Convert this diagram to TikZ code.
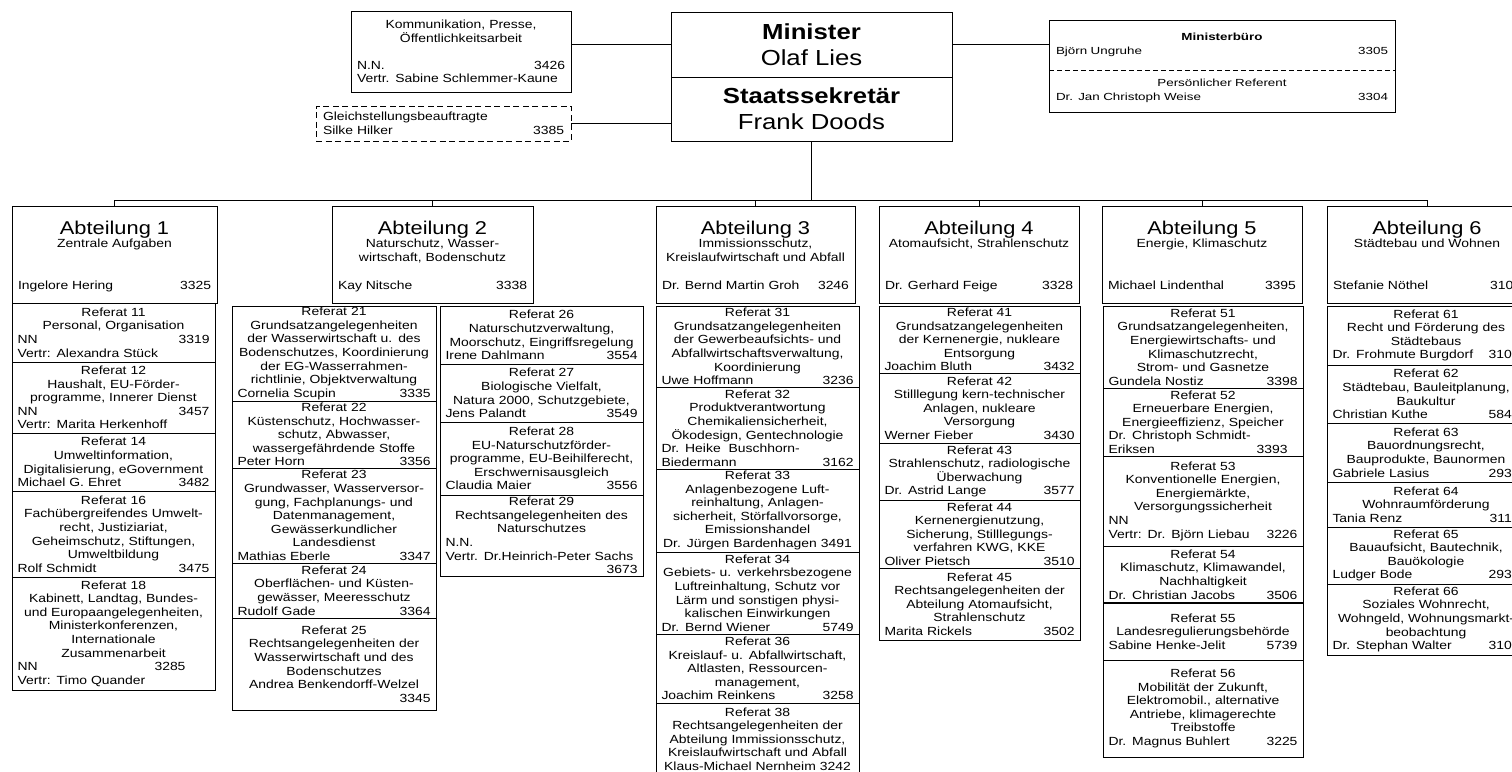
\documentclass[tikz,border=0pt]{standalone}
\usepackage{fontspec}
\setmainfont{Liberation Sans}[FakeStretch=1.18]
\newfontfamily\bueroschrift{Liberation Sans}[FakeStretch=1.3]
\usepackage{tikz}
\usetikzlibrary{calc}
\tikzstyle{kasten} = [draw, anchor=north west, inner ysep=0pt, outer sep=0pt]
\tikzstyle{abtbox} = [kasten, inner xsep=6pt]
\tikzstyle{refbox} = [kasten, align=center, inner xsep=5.5pt, text width=\spw]
\tikzstyle{chefbox} = [kasten, minimum width=281pt, align=center, font=\fontsize{21.8}{26}\selectfont]
\tikzstyle{buero} = [kasten, draw=none, inner xsep=7pt, text width=332pt, align=center, font=\bueroschrift\fontsize{10.3}{14}\selectfont]

\newcommand{\zeile}[2]{\makebox[\hsize]{#1\hfill#2}}
\newcommand{\links}[1]{\makebox[\hsize][l]{#1}}
\newcommand{\rechts}[1]{\makebox[\hsize][r]{#1}}
\newcommand{\abtkopf}[5]{\parbox[c][97pt][t]{#1}{\centering\rule{0pt}{28pt}{\fontsize{18.5}{20}\selectfont #2}\\#3\par\vfill
  \makebox[\linewidth]{\strut #4\hfill #5}\par\vspace*{9pt}}}

\begin{document}
\begin{tikzpicture}[x=1pt, y=-1pt, line width=1pt, font=\fontsize{11.8}{13.6}\selectfont]
    \useasboundingbox (0,0) rectangle (1512,771);

    % Leitung
    \node[chefbox, minimum height=65pt] (minister) at (671,12) {\textbf{Minister}\\Olaf Lies};
    \node[chefbox, minimum height=64pt] (staats) at (minister.south west) {\textbf{Staatssekretär}\\Frank Doods};

    \node[kasten, inner xsep=6pt, text width=208pt, align=center, minimum height=81pt] (komm) at (351,11)
        {Kommunikation, Presse,\\Öffentlichkeitsarbeit\\[13.6pt]\zeile{N.N.}{3426}\\\links{Vertr. Sabine Schlemmer-Kaune}};
    \node[kasten, dash pattern=on 6pt off 3.5pt, inner xsep=7pt, text width=241pt, align=center, minimum height=35pt] (gleich) at (316,106)
        {\links{Gleichstellungsbeauftragte}\\\zeile{Silke Hilker}{3385}};

    \node[buero, minimum height=50pt] (mbuero) at (1049,20) {\textbf{Ministerbüro}\\\zeile{Björn Ungruhe}{3305}};
    \node[buero, minimum height=42pt] (persref) at (mbuero.south west) {Persönlicher Referent\\\zeile{Dr. Jan Christoph Weise}{3304}};
    \draw (mbuero.north west) rectangle (persref.south east);
    \draw[dash pattern=on 5pt off 3pt] (mbuero.south west) -- (mbuero.south east);

    \draw (komm.east |- minister.west) -- (minister.west);
    \draw (gleich.east) -- (gleich.east -| staats.west);
    \draw (minister.east) -- (minister.east -| mbuero.west);

    % Abteilungen
    \node[abtbox] (abt1) at (12,206) {\abtkopf{193pt}{Abteilung 1}{Zentrale Aufgaben}{Ingelore Hering}{3325}};
    \node[abtbox] (abt2) at (332,206) {\abtkopf{189pt}{Abteilung 2}{Naturschutz, Wasser-\\wirtschaft, Bodenschutz}{Kay Nitsche}{3338}};
    \node[abtbox] (abt3) at (656,206) {\abtkopf{187pt}{Abteilung 3}{Immissionsschutz,\\Kreislaufwirtschaft und Abfall}{Dr. Bernd Martin Groh}{3246}};
    \node[abtbox] (abt4) at (879,206) {\abtkopf{188pt}{Abteilung 4}{Atomaufsicht, Strahlenschutz}{Dr. Gerhard Feige}{3328}};
    \node[abtbox] (abt5) at (1102,206) {\abtkopf{188pt}{Abteilung 5}{Energie, Klimaschutz}{Michael Lindenthal}{3395}};
    \node[abtbox] (abt6) at (1327,206) {\abtkopf{188pt}{Abteilung 6}{Städtebau und Wohnen}{Stefanie Nöthel}{310\phantom{0}}};

    \coordinate (bus) at ($(staats.south)+(0,59)$);
    \draw (staats.south) -- (bus);
    \foreach \n in {abt1,abt2,abt3,abt4,abt5,abt6}
        \draw (\n.north) |- (bus);

    % Referate Abt. 1
    \def\spw{192pt}
    \node[refbox, minimum height=59pt] (r11) at (abt1.south west) {Referat 11\\Personal, Organisation\\\zeile{NN}{3319}\\\links{Vertr: Alexandra Stück}};
    \node[refbox, minimum height=71pt] (r12) at (r11.south west) {Referat 12\\Haushalt, EU-Förder-\\programme, Innerer Dienst\\\zeile{NN}{3457}\\\links{Vertr: Marita Herkenhoff}};
    \node[refbox, minimum height=58pt] (r14) at (r12.south west) {Referat 14\\Umweltinformation,\\Digitalisierung, eGovernment\\\zeile{Michael G. Ehret}{3482}};
    \node[refbox, minimum height=86pt] (r16) at (r14.south west) {Referat 16\\Fachübergreifendes Umwelt-\\recht, Justiziariat,\\Geheimschutz, Stiftungen,\\Umweltbildung\\\zeile{Rolf Schmidt}{3475}};
    \node[refbox, minimum height=113pt] (r18) at (r16.south west) {Referat 18\\Kabinett, Landtag, Bundes-\\und Europaangelegenheiten,\\Ministerkonferenzen,\\Internationale\\Zusammenarbeit\\\zeile{NN}{3285\hspace{24pt}}\\\links{Vertr: Timo Quander}};

    % Referate Abt. 2
    \def\spw{193pt}
    \node[refbox, minimum height=95pt] (r21) at (232,306) {Referat 21\\Grundsatzangelegenheiten\\der Wasserwirtschaft u. des\\Bodenschutzes, Koordinierung\\der EG-Wasserrahmen-\\richtlinie, Objektverwaltung\\\zeile{Cornelia Scupin}{3335}};
    \node[refbox, minimum height=67pt] (r22) at (r21.south west) {Referat 22\\Küstenschutz, Hochwasser-\\schutz, Abwasser,\\wassergefährdende Stoffe\\\zeile{Peter Horn}{3356}};
    \node[refbox, minimum height=95pt] (r23) at (r22.south west) {Referat 23\\Grundwasser, Wasserversor-\\gung, Fachplanungs- und\\Datenmanagement,\\Gewässerkundlicher\\Landesdienst\\\zeile{Mathias Eberle}{3347}};
    \node[refbox, minimum height=55pt] (r24) at (r23.south west) {Referat 24\\Oberflächen- und Küsten-\\gewässer, Meeresschutz\\\zeile{Rudolf Gade}{3364}};
    \node[refbox, minimum height=92pt] (r25) at (r24.south west) {Referat 25\\Rechtsangelegenheiten der\\Wasserwirtschaft und des\\Bodenschutzes\\Andrea Benkendorff-Welzel\\\rechts{3345}};
    \def\spw{192pt}
    \node[refbox, minimum height=58pt] (r26) at (440,306) {Referat 26\\Naturschutzverwaltung,\\Moorschutz, Eingriffsregelung\\\zeile{Irene Dahlmann}{3554}};
    \node[refbox, minimum height=58pt] (r27) at (r26.south west) {Referat 27\\Biologische Vielfalt,\\Natura 2000, Schutzgebiete,\\\zeile{Jens Palandt}{3549}};
    \node[refbox, minimum height=73pt] (r28) at (r27.south west) {Referat 28\\EU-Naturschutzförder-\\programme, EU-Beihilferecht,\\Erschwernisausgleich\\\zeile{Claudia Maier}{3556}};
    \node[refbox, minimum height=81pt] (r29) at (r28.south west) {Referat 29\\Rechtsangelegenheiten des\\Naturschutzes\\\links{N.N.}\\\links{Vertr. Dr.Heinrich-Peter Sachs}\\\rechts{3673}};

    % Referate Abt. 3
    \node[refbox, minimum height=81pt] (r31) at (656,306) {Referat 31\\Grundsatzangelegenheiten\\der Gewerbeaufsichts- und\\Abfallwirtschaftsverwaltung,\\Koordinierung\\\zeile{Uwe Hoffmann}{3236}};
    \node[refbox, minimum height=82pt] (r32) at (r31.south west) {Referat 32\\Produktverantwortung\\Chemikaliensicherheit,\\Ökodesign, Gentechnologie\\\links{Dr. Heike\ \ Buschhorn-}\\\zeile{Biedermann}{3162}};
    \node[refbox, minimum height=83pt] (r33) at (r32.south west) {Referat 33\\Anlagenbezogene Luft-\\reinhaltung, Anlagen-\\sicherheit, Störfallvorsorge,\\Emissionshandel\\Dr. Jürgen Bardenhagen 3491};
    \node[refbox, minimum height=82pt] (r34) at (r33.south west) {Referat 34\\Gebiets- u. verkehrsbezogene\\Luftreinhaltung, Schutz vor\\Lärm und sonstigen physi-\\kalischen Einwirkungen\\\zeile{Dr. Bernd Wiener}{5749}};
    \node[refbox, minimum height=69pt] (r36) at (r34.south west) {Referat 36\\Kreislauf- u. Abfallwirtschaft,\\Altlasten, Ressourcen-\\management,\\\zeile{Joachim Reinkens}{3258}};
    \node[refbox, minimum height=72pt] (r38) at (r36.south west) {Referat 38\\Rechtsangelegenheiten der\\Abteilung Immissionsschutz,\\Kreislaufwirtschaft und Abfall\\Klaus-Michael Nernheim 3242};

    % Referate Abt. 4
    \def\spw{190pt}
    \node[refbox, minimum height=67pt] (r41) at (879,306) {Referat 41\\Grundsatzangelegenheiten\\der Kernenergie, nukleare\\Entsorgung\\\zeile{Joachim Bluth}{3432}};
    \node[refbox, minimum height=70pt] (r42) at (r41.south west) {Referat 42\\Stilllegung kern-technischer\\Anlagen, nukleare\\Versorgung\\\zeile{Werner Fieber}{3430}};
    \node[refbox, minimum height=57pt] (r43) at (r42.south west) {Referat 43\\Strahlenschutz, radiologische\\Überwachung\\\zeile{Dr. Astrid Lange}{3577}};
    \node[refbox, minimum height=68pt] (r44) at (r43.south west) {Referat 44\\Kernenergienutzung,\\Sicherung, Stilllegungs-\\verfahren KWG, KKE\\\zeile{Oliver Pietsch}{3510}};
    \node[refbox, minimum height=72pt] (r45) at (r44.south west) {Referat 45\\Rechtsangelegenheiten der\\Abteilung Atomaufsicht,\\Strahlenschutz\\\zeile{Marita Rickels}{3502}};

    % Referate Abt. 5
    \def\spw{189pt}
    \node[refbox, minimum height=82pt] (r51) at (1103,306) {Referat 51\\Grundsatzangelegenheiten,\\Energiewirtschafts- und\\Klimaschutzrecht,\\Strom- und Gasnetze\\\zeile{Gundela Nostiz}{3398}};
    \node[refbox, minimum height=68pt] (r52) at (r51.south west) {Referat 52\\Erneuerbare Energien,\\Energieeffizienz, Speicher\\\links{Dr. Christoph Schmidt-}\\\zeile{Eriksen}{3393\hspace{10pt}}};
    \node[refbox, minimum height=90pt] (r53) at (r52.south west) {Referat 53\\Konventionelle Energien,\\Energiemärkte,\\Versorgungssicherheit\\\links{NN}\\\zeile{Vertr: Dr. Björn Liebau}{3226}};
    \node[refbox, minimum height=57pt] (r54) at (r53.south west) {Referat 54\\Klimaschutz, Klimawandel,\\Nachhaltigkeit\\\zeile{Dr. Christian Jacobs}{3506}};
    \node[refbox, minimum height=57pt] (r55) at (r54.south west) {Referat 55\\Landesregulierungsbehörde\\\zeile{Sabine Henke-Jelit}{5739}};
    \node[refbox, minimum height=97pt] (r56) at (r55.south west) {Referat 56\\Mobilität der Zukunft,\\Elektromobil., alternative\\Antriebe, klimagerechte\\Treibstoffe\\\zeile{Dr. Magnus Buhlert}{3225}};
    \draw[line width=2pt] (r55.north west) -- (r55.north east);

    % Referate Abt. 6
    \def\spw{187pt}
    \node[refbox, minimum height=59pt] (r61) at (1327,306) {Referat 61\\Recht und Förderung des\\Städtebaus\\\zeile{Dr. Frohmute Burgdorf}{310\phantom{0}}};
    \node[refbox, minimum height=58pt] (r62) at (r61.south west) {Referat 62\\Städtebau, Bauleitplanung,\\Baukultur\\\zeile{Christian Kuthe}{584\phantom{0}}};
    \node[refbox, minimum height=59pt] (r63) at (r62.south west) {Referat 63\\Bauordnungsrecht,\\Bauprodukte, Baunormen\\\zeile{Gabriele Lasius}{293\phantom{0}}};
    \node[refbox, minimum height=45pt] (r64) at (r63.south west) {Referat 64\\Wohnraumförderung\\\zeile{Tania Renz}{311\phantom{0}}};
    \node[refbox, minimum height=57pt] (r65) at (r64.south west) {Referat 65\\Bauaufsicht, Bautechnik,\\Bauökologie\\\zeile{Ludger Bode}{293\phantom{0}}};
    \node[refbox, minimum height=71pt] (r66) at (r65.south west) {Referat 66\\Soziales Wohnrecht,\\Wohngeld, Wohnungsmarkt-\\beobachtung\\\zeile{Dr. Stephan Walter}{310\phantom{0}}};

\end{tikzpicture}
\end{document}
